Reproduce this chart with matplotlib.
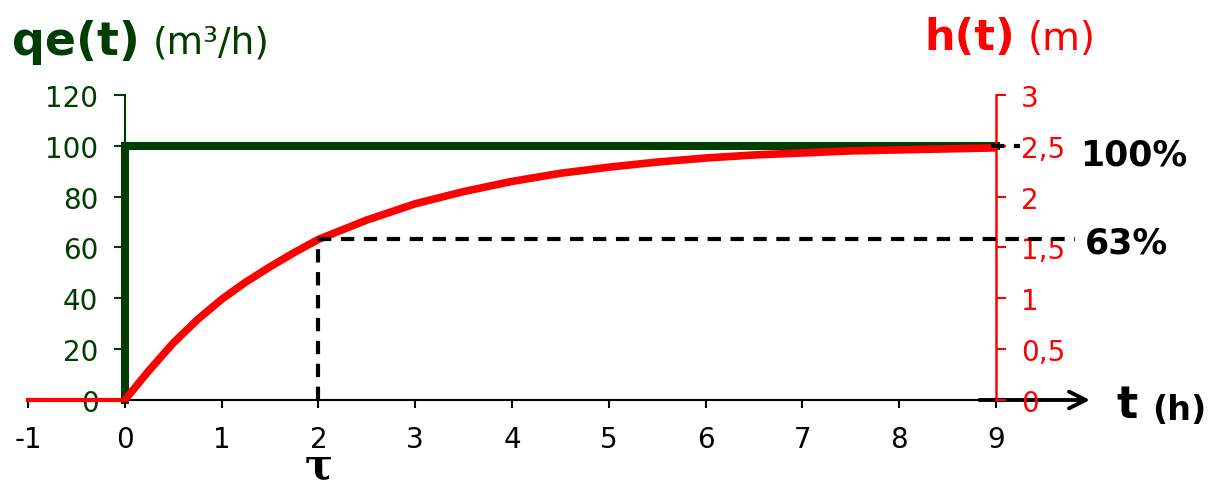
import matplotlib.pyplot as plt

plt.rcParams['font.family'] = ['DejaVu Sans']
plt.rcParams['axes.unicode_minus'] = False

# inflow step qe(t) in m3/h
t_step = [0, 0, 9]
qe = [0, 100, 100]

# level response h(t) in m
t_before = [-1, 0]
h_before = [0, 0]
t_h = [0, 0.25, 0.5, 0.75, 1.0, 1.25, 1.5, 1.75, 2.0, 2.5, 3.0, 3.5, 4.0,
       4.5, 5.0, 5.5, 6.0, 6.5, 7.0, 7.5, 8.0, 8.5, 9.0]
h = [0, 0.29, 0.56, 0.79, 0.99, 1.16, 1.31, 1.45, 1.58, 1.77, 1.93, 2.05,
     2.15, 2.23, 2.29, 2.34, 2.38, 2.41, 2.43, 2.45, 2.46, 2.47, 2.48]

tau = 2
h_tau = 1.58
h_final = 2.5

x_ticks = list(range(-1, 10))
q_ticks = [0, 20, 40, 60, 80, 100, 120]
h_ticks = [0, 0.5, 1, 1.5, 2, 2.5, 3]
h_ticklabels = ['0', '0,5', '1', '1,5', '2', '2,5', '3']

GREEN = '#003d00'
RED = '#ff0000'

fig = plt.figure(figsize=(12.23, 4.89), dpi=100)
ax = fig.add_axes([0.0229, 0.18, 0.7915, 0.6237])
ax2 = ax.twinx()

ax.set_xlim(-1, 9)
ax.set_ylim(0, 120)
ax2.set_ylim(0, 3)

# spines
ax.spines['top'].set_visible(False)
ax.spines['right'].set_visible(False)
ax.spines['left'].set_position(('data', 0))
ax.spines['left'].set_color(GREEN)
ax.spines['left'].set_linewidth(1.5)
ax.spines['bottom'].set_color('black')
ax.spines['bottom'].set_linewidth(1.5)
for s in ['top', 'left', 'bottom']:
    ax2.spines[s].set_visible(False)
ax2.spines['right'].set_color(RED)
ax2.spines['right'].set_linewidth(1.8)

ax.set_xticks(x_ticks)
ax.set_yticks(q_ticks)
ax.tick_params(axis='x', direction='out', length=6, width=1.5, colors='black',
               labelsize=20, pad=12)
ax.tick_params(axis='y', direction='out', length=8, width=1.5, colors=GREEN,
               labelsize=20, pad=11)
ax2.set_yticks(h_ticks)
ax2.set_yticklabels(h_ticklabels)
ax2.tick_params(axis='y', direction='out', length=7, width=1.5, colors=RED,
                labelsize=20, pad=11)

# curves
ax2.plot(t_before, h_before, color=RED, lw=3, clip_on=False, zorder=3)
ax2.plot(t_h, h, color=RED, lw=5.5, clip_on=False, zorder=3,
         solid_capstyle='butt')
ax.plot(t_step, qe, color=GREEN, lw=5.8, clip_on=False, zorder=2,
        solid_joinstyle='miter')

# time constant construction
dash = (0, (3.2, 2.3))
ax2.plot([tau, 9.82], [h_tau, h_tau], color='black', lw=3, ls=dash,
         clip_on=False, zorder=4)
ax2.plot([tau, tau], [0, h_tau], color='black', lw=3, ls=dash,
         clip_on=False, zorder=4)
ax2.plot([8.95, 9.25], [h_final, h_final], color='black', lw=3, ls=dash,
         clip_on=False, zorder=4)

# time axis arrow
ax.annotate('', xy=(10.0, 0), xytext=(8.8, 0), xycoords='data',
            arrowprops=dict(arrowstyle='->', color='black', lw=2.8,
                            mutation_scale=30), annotation_clip=False)

# titles and annotations
fig.text(0.0098, 0.914, 'qe(t)', color=GREEN, fontsize=33,
         fontweight='bold', va='center', ha='left')
fig.text(0.125, 0.912, '(m³/h)', color=GREEN, fontsize=27,
         va='center', ha='left')
fig.text(0.756, 0.922, 'h(t)', color=RED, fontsize=31,
         fontweight='bold', va='center', ha='left')
fig.text(0.8406, 0.92, '(m)', color=RED, fontsize=28,
         va='center', ha='left')
fig.text(0.883, 0.683, '100%', color='black', fontsize=25,
         fontweight='bold', va='center', ha='left')
fig.text(0.887, 0.503, '63%', color='black', fontsize=25,
         fontweight='bold', va='center', ha='left')
fig.text(0.913, 0.17, 't', color='black', fontsize=32,
         fontweight='bold', va='center', ha='left')
fig.text(0.942, 0.16, '(h)', color='black', fontsize=24,
         fontweight='bold', va='center', ha='left')
tau_x = ax.transData.transform((tau, 0))[0] / fig.bbox.width
fig.text(tau_x, 0.003, 'τ', family='DejaVu Serif', fontweight='bold',
         fontsize=30, ha='center', va='bottom', color='black')

fig.savefig('out.png', dpi=100)
